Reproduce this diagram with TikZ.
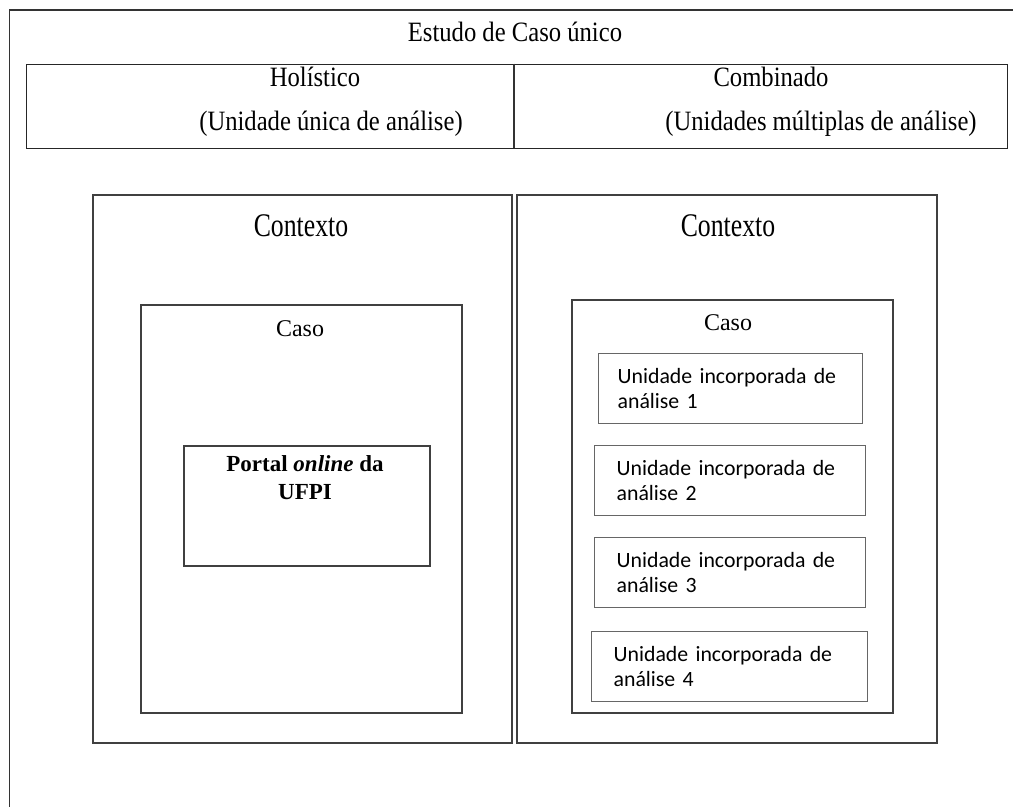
\documentclass[tikz,border=0pt]{standalone}
\usepackage{fontspec}
\setmainfont{Liberation Serif}
\newfontfamily\ctxfont[FakeStretch=0.78]{Liberation Serif}
\newfontfamily\topfont[FakeStretch=0.88]{Liberation Serif}
\newfontfamily\unitfont{Carlito}
\begin{document}
\begin{tikzpicture}[x=1pt,y=-1pt,
  frameline/.style={draw=black!80, line width=1.3pt},
  bigbox/.style={draw=black!75, line width=1.5pt, rectangle, inner sep=0pt, anchor=north west},
  unitbox/.style={draw=black!60, line width=1.3pt, rectangle, anchor=north west,
     minimum height=70pt, inner xsep=0pt, align=left, font=\unitfont\fontsize{21.8}{24.5}\selectfont},
  toptext/.style={anchor=base, inner sep=0pt, font=\topfont\fontsize{28}{32}\selectfont},
  ctxtext/.style={anchor=base, inner sep=0pt, font=\ctxfont\fontsize{33}{38}\selectfont},
  casotext/.style={anchor=base, inner sep=0pt, font=\fontsize{24}{28}\selectfont},
  portaltext/.style={anchor=north, inner sep=0pt, align=center, font=\bfseries\fontsize{23}{28}\selectfont}]
\useasboundingbox (0,0) rectangle (1013,807);
% outer frame (open on right and bottom)
\draw[frameline] (1013,10) -- (9.5,10) -- (9.5,807);
\node[toptext] (title) at (515,41) {Estudo de Caso único};
% table
\node[bigbox, draw=black!85, line width=1.3pt, minimum width=981pt, minimum height=84pt] (tab) at (26,63.5) {};
\draw[frameline] (514,63.5) -- (514,147.5);
\node[toptext] (hol) at (315,86) {Holístico};
\node[toptext] (holsub) at (331,130) {(Unidade única de análise)};
\node[toptext] (comb) at (771,86) {Combinado};
\node[toptext] (combsub) at (821,130) {(Unidades múltiplas de análise)};
% context boxes
\node[bigbox, minimum width=419pt, minimum height=548pt] (ctxL) at (92,194) {};
\node[bigbox, minimum width=420pt, minimum height=548pt] (ctxR) at (516,194) {};
\node[ctxtext] (ctxLt) at (301,236) {Contexto};
\node[ctxtext] (ctxRt) at (728,236) {Contexto};
% caso boxes
\node[bigbox, minimum width=321pt, minimum height=408pt] (casoL) at (140,304) {};
\node[bigbox, minimum width=321pt, minimum height=413pt] (casoR) at (571,299) {};
\node[casotext] (casoLt) at (300,336) {Caso};
\node[casotext] (casoRt) at (728,330) {Caso};
% portal
\node[bigbox, minimum width=246pt, minimum height=120pt] (portal) at (183,445) {};
\node[portaltext] (portalt) at (305,455) {Portal \textit{online} da\\UFPI};
% units
\node[unitbox, minimum width=264pt, text width=226pt] (u1) at (598,353) {Unidade incorporada de\\análise 1};
\node[unitbox, minimum width=271pt, text width=227pt] (u2) at (594,445) {Unidade incorporada de\\análise 2};
\node[unitbox, minimum width=271pt, text width=227pt] (u3) at (594,537) {Unidade incorporada de\\análise 3};
\node[unitbox, minimum width=276pt, text width=232pt] (u4) at (591,631) {Unidade incorporada de\\análise 4};
\end{tikzpicture}
\end{document}
